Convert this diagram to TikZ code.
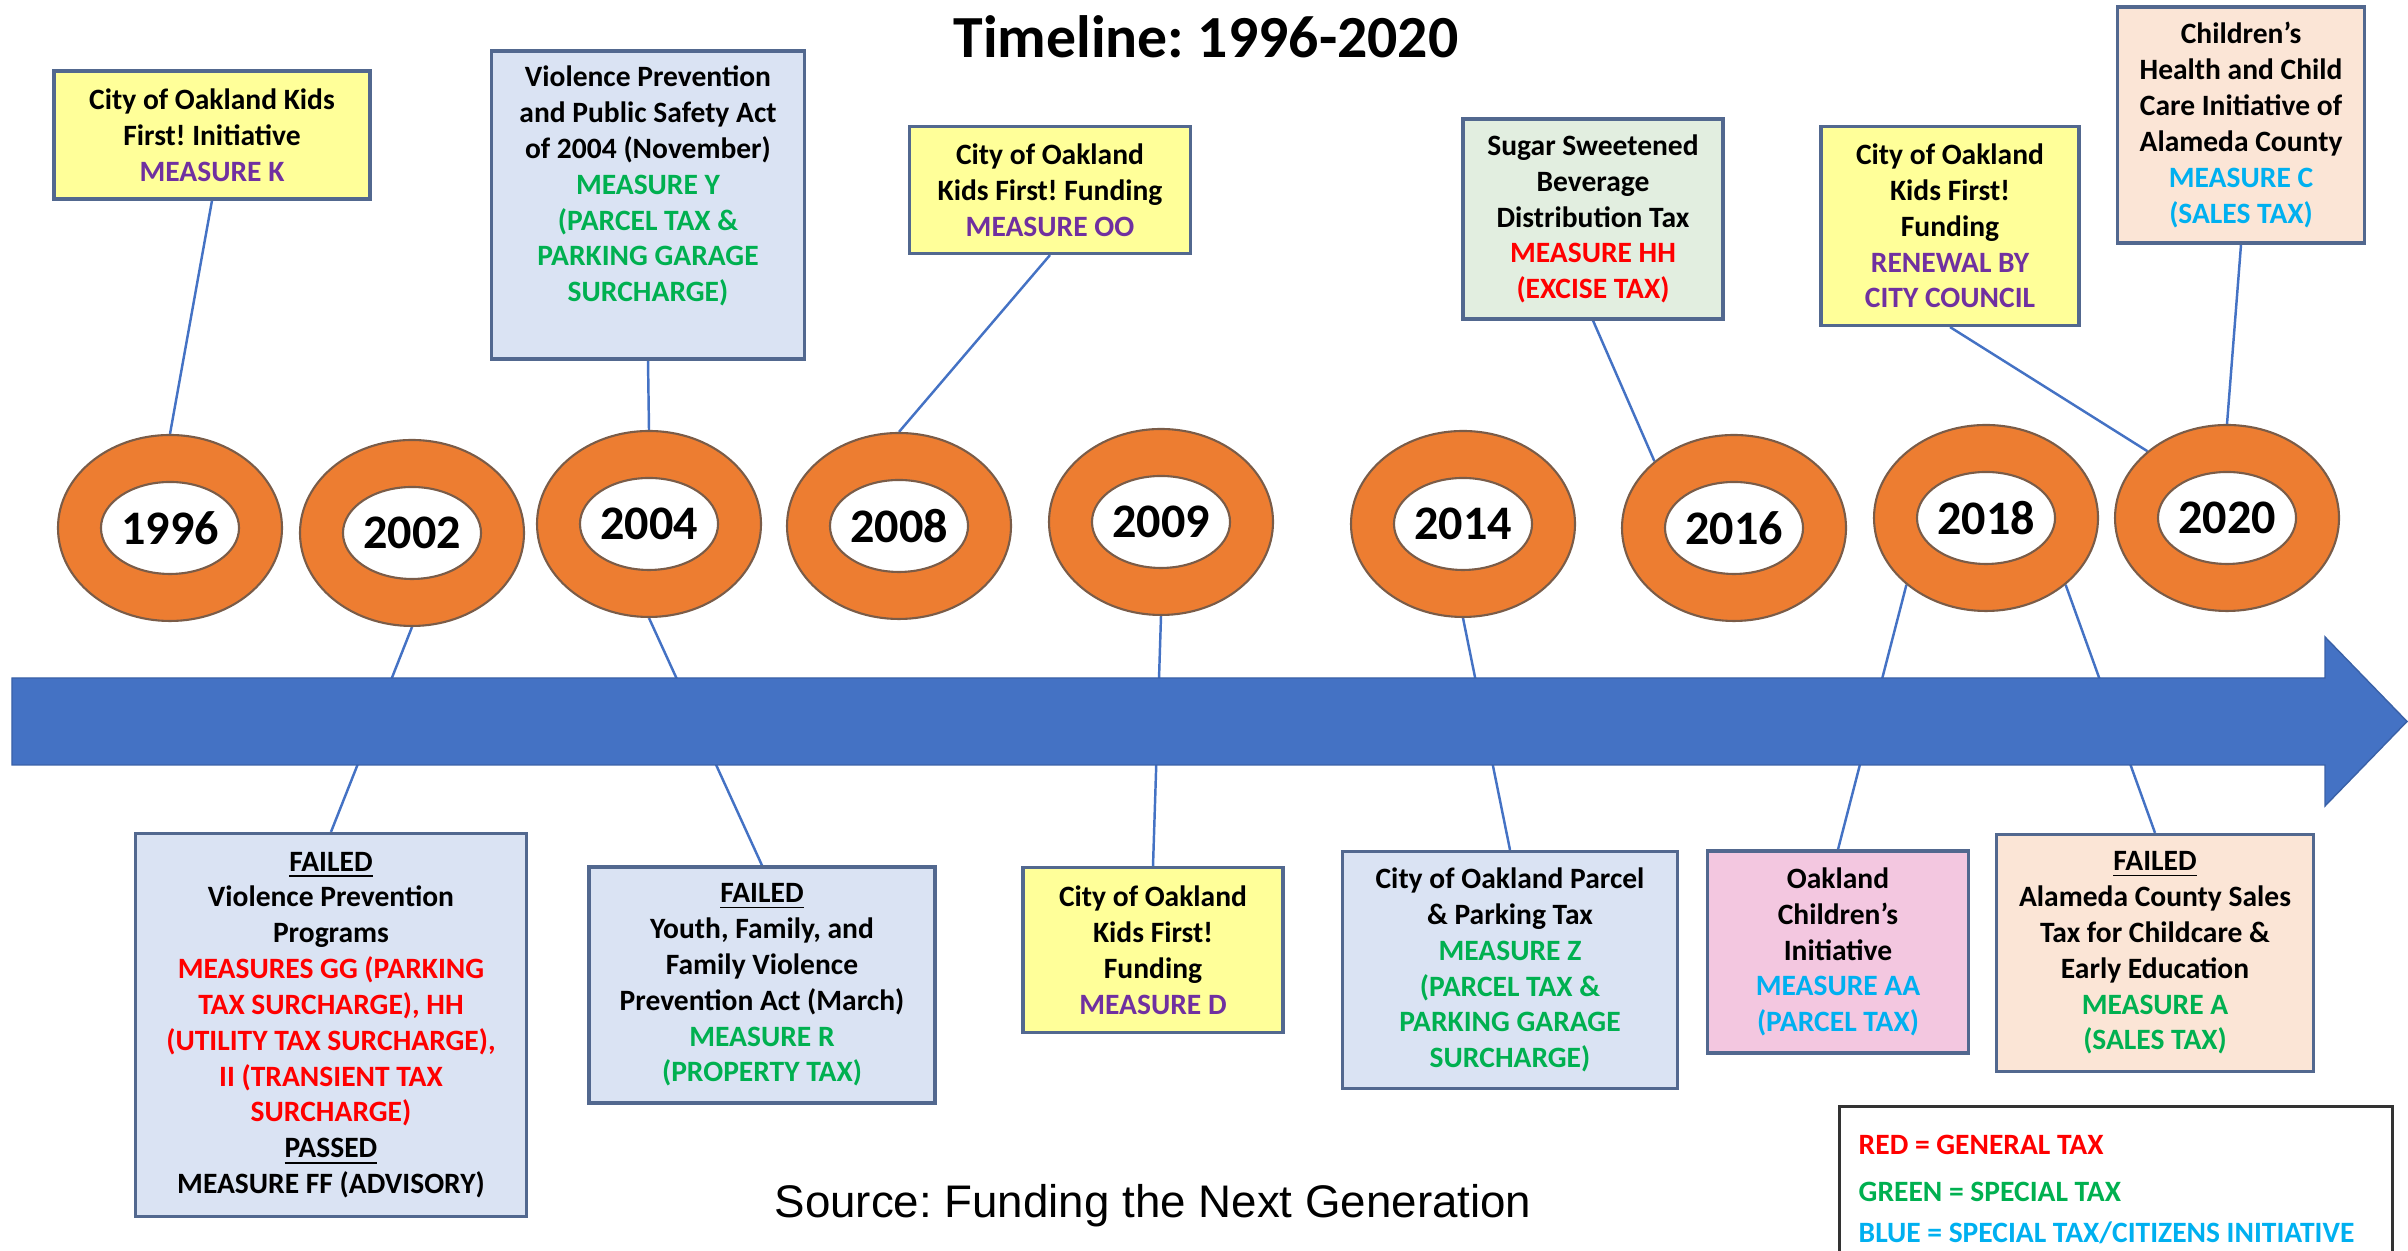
\documentclass[tikz,border=0pt]{standalone}
\usepackage{fontspec}
\setmainfont{Carlito}
\newfontfamily\arialfont{Liberation Sans}
\usetikzlibrary{shapes.geometric,backgrounds}
\frenchspacing

\definecolor{ringorange}{HTML}{ED7D31}
\definecolor{ringedge}{HTML}{7A5C48}
\definecolor{arrowblue}{HTML}{4472C4}
\definecolor{boxline}{HTML}{52688F}
\definecolor{paleyellow}{HTML}{FFFF99}
\definecolor{paleblue}{HTML}{DAE3F3}
\definecolor{palegreen}{HTML}{E2EEE0}
\definecolor{peach}{HTML}{FBE5D6}
\definecolor{pink}{HTML}{F3C7E0}
\definecolor{mpurple}{HTML}{7030A0}
\definecolor{mgreen}{HTML}{00B050}
\definecolor{mred}{HTML}{FF0000}
\definecolor{mblue}{HTML}{00B0F0}

\newcommand{\purtxt}[1]{\textcolor{mpurple}{#1}}
\newcommand{\grntxt}[1]{\textcolor{mgreen}{#1}}
\newcommand{\redtxt}[1]{\textcolor{mred}{#1}}
\newcommand{\blutxt}[1]{\textcolor{mblue}{#1}}

\tikzset{
  box/.style={draw=boxline, line width=0.9pt, align=center, inner sep=1pt,
    font=\fontsize{8.4}{10.2}\selectfont\bfseries},
  ring/.style={ellipse, draw=ringedge, line width=0.6pt, fill=ringorange,
    minimum width=2.24cm, minimum height=1.86cm, inner sep=0pt},
  hole/.style={ellipse, draw=ringedge, line width=0.6pt, fill=white,
    minimum width=1.32cm, minimum height=0.92cm, inner sep=0pt,
    font=\fontsize{13.7}{14}\selectfont\bfseries},
  link/.style={draw=arrowblue, line width=0.7pt},
  legendtext/.style={anchor=base west, inner sep=0pt, font=\fontsize{8.4}{10}\selectfont\bfseries}
}

\begin{document}
\begin{tikzpicture}
\useasboundingbox (0,0) rectangle (24.08,12.51);

\node[anchor=base, font=\fontsize{17}{20}\selectfont\bfseries] (title) at (12.06,11.93) {Timeline: 1996-2020};

\fill[arrowblue, draw=arrowblue!85!black, line width=0.4pt] (0.12,5.73) -- (23.25,5.73) -- (23.25,6.14) -- (24.07,5.295)
  -- (23.25,4.45) -- (23.25,4.86) -- (0.12,4.86) -- cycle;

\foreach \yr/\x/\y in {1996/1.70/7.23, 2002/4.12/7.18, 2004/6.49/7.27, 2008/8.99/7.25, 2009/11.61/7.29,
    2014/14.63/7.27, 2016/17.34/7.23, 2018/19.86/7.33, 2020/22.27/7.33} {
  \node[ring] (c\yr) at (\x,\y) {};
  \node[hole] (y\yr) at (\x,\y) {\yr};
}

% above the arrow
\node[box, fill=paleyellow, minimum width=3.16cm, minimum height=1.28cm] (measK) at (2.12,11.16)
  {City of Oakland Kids\\First! Initiative\\\purtxt{MEASURE K}};
\node[box, fill=paleblue, minimum width=3.13cm, minimum height=3.08cm, text depth=12pt] (measY) at (6.48,10.46)
  {Violence Prevention\\and Public Safety Act\\of 2004 (November)\\\grntxt{MEASURE Y}\\\grntxt{(PARCEL TAX \&}\\\grntxt{PARKING GARAGE}\\\grntxt{SURCHARGE)}};
\node[box, fill=paleyellow, minimum width=2.81cm, minimum height=1.27cm] (measOO) at (10.50,10.61)
  {City of Oakland\\Kids First! Funding\\\purtxt{MEASURE OO}};
\node[box, fill=palegreen, minimum width=2.60cm, minimum height=2.00cm] (measHH) at (15.93,10.32)
  {Sugar Sweetened\\Beverage\\Distribution Tax\\\redtxt{MEASURE HH}\\\redtxt{(EXCISE TAX)}};
\node[box, fill=paleyellow, minimum width=2.58cm, minimum height=1.99cm] (renewal) at (19.50,10.25)
  {City of Oakland\\Kids First!\\Funding\\\purtxt{RENEWAL BY}\\\purtxt{CITY COUNCIL}};
\node[box, fill=peach, minimum width=2.47cm, minimum height=2.36cm] (measC) at (22.41,11.26)
  {Children’s\\Health and Child\\Care Initiative of\\Alameda County\\\blutxt{MEASURE C}\\\blutxt{(SALES TAX)}};

% below the arrow
\node[box, fill=paleblue, minimum width=3.91cm, minimum height=3.83cm] (measGG) at (3.31,2.26)
  {\underline{FAILED}\\Violence Prevention\\Programs\\\redtxt{MEASURES GG (PARKING}\\\redtxt{TAX SURCHARGE), HH}\\\redtxt{(UTILITY TAX SURCHARGE),}\\\redtxt{II (TRANSIENT TAX}\\\redtxt{SURCHARGE)}\\\underline{PASSED}\\MEASURE FF (ADVISORY)};
\node[box, fill=paleblue, minimum width=3.46cm, minimum height=2.36cm] (measR) at (7.62,2.66)
  {\underline{FAILED}\\Youth, Family, and\\Family Violence\\Prevention Act (March)\\\grntxt{MEASURE R}\\\grntxt{(PROPERTY TAX)}};
\node[box, fill=paleyellow, minimum width=2.60cm, minimum height=1.65cm] (measD) at (11.53,3.01)
  {City of Oakland\\Kids First!\\Funding\\\purtxt{MEASURE D}};
\node[box, fill=paleblue, minimum width=3.35cm, minimum height=2.37cm] (measZ) at (15.10,2.81)
  {City of Oakland Parcel\\\& Parking Tax\\\grntxt{MEASURE Z}\\\grntxt{(PARCEL TAX \&}\\\grntxt{PARKING GARAGE}\\\grntxt{SURCHARGE)}};
\node[box, fill=pink, minimum width=2.61cm, minimum height=2.02cm] (measAA) at (18.38,2.99)
  {Oakland\\Children’s\\Initiative\\\blutxt{MEASURE AA}\\\blutxt{(PARCEL TAX)}};
\node[box, fill=peach, minimum width=3.17cm, minimum height=2.37cm] (measA) at (21.55,2.98)
  {\underline{FAILED}\\Alameda County Sales\\Tax for Childcare \&\\Early Education\\\grntxt{MEASURE A}\\\grntxt{(SALES TAX)}};

\begin{pgfonlayer}{background}
\draw[link] (measK.south) -- (c1996.north);
\draw[link] (measY.south) -- (c2004.north);
\draw[link] (measOO.south) -- (c2008.north);
\draw[link] (measHH.south) -- (c2016.140);
\draw[link] (renewal.south) -- (c2020.140);
\draw[link] (measC.south) -- (c2020.north);
\draw[link] (c2002.south) -- (measGG.north);
\draw[link] (c2004.south) -- (measR.north);
\draw[link] (c2009.south) -- (measD.north);
\draw[link] (c2014.south) -- (measZ.north);
\draw[link] (c2018.220) -- (measAA.north);
\draw[link] (c2018.320) -- (measA.north);
\end{pgfonlayer}

\node[anchor=base, font=\arialfont\fontsize{13}{15}\selectfont] (source) at (11.53,0.33) {Source: Funding the Next Generation};

\node[draw=black!80, line width=0.9pt, anchor=north west, minimum width=5.53cm, minimum height=1.9cm] (legend) at (18.38,1.46) {};
\node[legendtext, text=mred] (lred) at (18.58,0.96) {RED = GENERAL TAX};
\node[legendtext, text=mgreen] (lgreen) at (18.58,0.49) {GREEN = SPECIAL TAX};
\node[legendtext, text=mblue] (lblue) at (18.58,0.08) {BLUE = SPECIAL TAX/CITIZENS INITIATIVE};
\end{tikzpicture}
\end{document}
